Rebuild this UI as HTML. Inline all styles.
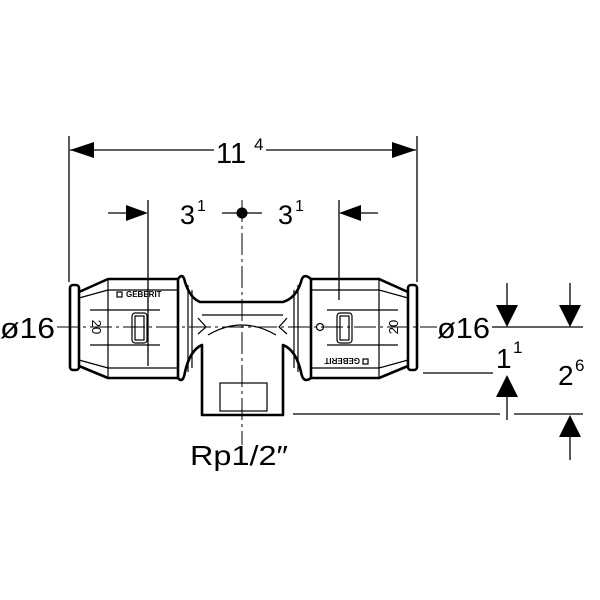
<!DOCTYPE html>
<html><head><style>html,body{margin:0;padding:0;background:#fff}svg{display:block}text{font-family:"Liberation Sans",sans-serif;fill:#000}</style></head><body>
<svg width="600" height="600" viewBox="0 0 600 600" xmlns="http://www.w3.org/2000/svg">
<g stroke="#000" stroke-width="1.3" fill="none">
<line x1="69" y1="136" x2="69" y2="282"/>
<line x1="417" y1="136" x2="417" y2="282"/>
<line x1="70" y1="150" x2="214" y2="150"/>
<line x1="266" y1="150" x2="416" y2="150"/>
<line x1="148" y1="200" x2="148" y2="366"/>
<line x1="339" y1="200" x2="339" y2="300"/>
<line x1="108" y1="213" x2="130" y2="213"/>
<line x1="358" y1="213" x2="378" y2="213"/>
<line x1="222" y1="213" x2="262" y2="213"/>
<line x1="242" y1="200" x2="242" y2="445" stroke-width="1" stroke-dasharray="22,4,3,4"/>
<line x1="57" y1="327" x2="437" y2="327" stroke-width="1" stroke-dasharray="22,4,3,4"/>
<line x1="492" y1="327" x2="583" y2="327"/>
<line x1="507" y1="283" x2="507" y2="310"/>
<line x1="570" y1="283" x2="570" y2="310"/>
<line x1="423" y1="373" x2="493" y2="373"/>
<line x1="507" y1="392" x2="507" y2="420"/>
<line x1="293" y1="414" x2="500" y2="414"/>
<line x1="514" y1="414" x2="583" y2="414"/>
<line x1="570" y1="432" x2="570" y2="460"/>
</g>
<g fill="#000">
<polygon points="70,150 94,142 94,158"/>
<polygon points="416,150 392,142 392,158"/>
<polygon points="148,213 126,205 126,221"/>
<polygon points="339,213 361,205 361,221"/>
<circle cx="242" cy="213" r="5.5"/>
<polygon points="507,327 496,305 518,305"/>
<polygon points="570,327 559,305 581,305"/>
<polygon points="507,375 496,397 518,397"/>
<polygon points="570,415 559,437 581,437"/>
</g>
<g stroke="#000" fill="none" stroke-width="2.6" stroke-linejoin="round">
<rect x="70" y="285" width="9" height="85" rx="3"/>
<path d="M79,292 L108,279 L178,279 L178,378 L108,378 L79,366"/>
<rect x="408" y="285" width="9" height="85" rx="3"/>
<path d="M408,292 L379,279 L311,279 L311,378 L379,378 L408,366"/>
<path d="M178,279 Q183,272 185,282 Q190,298 200,302 L283,302 Q296,298 301,282 Q303,272 311,279"/>
<path d="M178,378 Q183,384 185,372 Q190,350 202,345 L202,415 L283,415 L283,345 Q296,350 301,372 Q303,384 311,378"/>
</g>
<g stroke="#000" fill="none" stroke-width="1.2">
<path d="M79,298 L108,290 L178,290 M79,360 L108,368 L178,368"/>
<path d="M408,298 L379,290 L311,290 M408,360 L379,368 L311,368"/>
<line x1="108" y1="279" x2="108" y2="378"/><line x1="379" y1="279" x2="379" y2="378"/>
<path d="M90,310 L160,310 M90,345 L160,345 M327,310 L398,310 M327,345 L398,345"/>
<rect x="132" y="313" width="15" height="30" rx="3"/><rect x="337" y="313" width="15" height="30" rx="3"/>
<rect x="135" y="316" width="9" height="24"/><rect x="340" y="316" width="9" height="24"/>
<path d="M188,285 L188,372 M192,290 L192,368 M298,285 L298,372 M294,290 L294,368"/>
<path d="M202,315 L283,315 M198,318 L206,327 L198,334 M287,318 L279,327 L287,334"/>
<path d="M208,335 Q242,315 276,335"/>
<rect x="220" y="383" width="47" height="28"/>
<circle cx="320" cy="327" r="3.5"/>
<rect x="117" y="292" width="5" height="5"/><rect x="363" y="359" width="5" height="5"/>
</g>
<text x="126" y="297" font-size="8" font-weight="bold">GEBERIT</text>
<text x="320" y="364" font-size="8" font-weight="bold" transform="rotate(180 340 361)">GEBERIT</text>
<text x="92" y="327" font-size="13" transform="rotate(90 92 327)" text-anchor="middle">20</text>
<text x="394" y="327" font-size="13" transform="rotate(-90 394 327)" text-anchor="middle" dy="4">20</text>
<text x="216" y="163" font-size="29">11</text>
<text x="254" y="150" font-size="17">4</text>
<text x="180" y="224" font-size="27">3</text>
<text x="197" y="211" font-size="16">1</text>
<text x="278" y="224" font-size="27">3</text>
<text x="295" y="211" font-size="16">1</text>
<text x="0" y="338" font-size="29" textLength="55" lengthAdjust="spacingAndGlyphs">ø16</text>
<text x="437" y="338" font-size="29" textLength="53" lengthAdjust="spacingAndGlyphs">ø16</text>
<text x="496" y="368" font-size="28">1</text>
<text x="513" y="353" font-size="17">1</text>
<text x="558" y="385" font-size="28">2</text>
<text x="575" y="371" font-size="17">6</text>
<text x="190" y="465" font-size="28" textLength="98" lengthAdjust="spacingAndGlyphs">Rp1/2″</text>
</svg>
</body></html>
